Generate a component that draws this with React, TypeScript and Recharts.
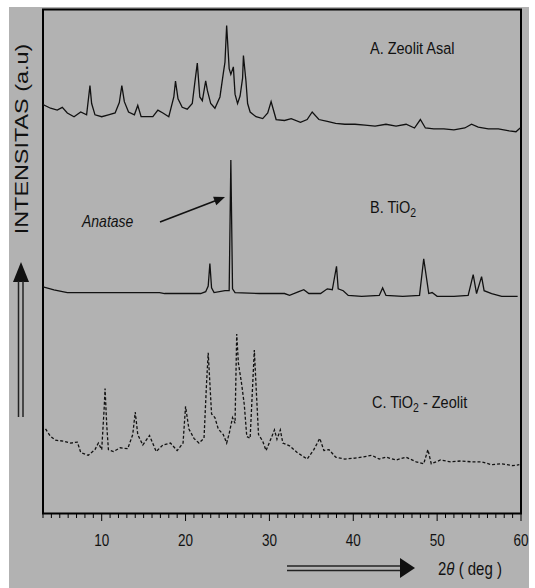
import { LineChart, Line, XAxis, YAxis } from 'recharts'

// 2θ (deg) / intensitas (a.u) pairs
const zeolitAsal: [number, number][] = [
  [3.0, 403], [3.9, 399], [4.7, 397], [5.3, 400], [5.9, 394], [6.7, 390], [7.5, 395], [8.2, 392],
  [8.6, 423], [8.8, 404], [9.2, 392], [10.0, 390], [10.8, 392], [11.6, 394], [12.1, 405], [12.4, 423],
  [12.7, 406], [13.2, 395], [13.9, 392], [14.3, 402], [14.7, 390], [15.3, 390], [16.1, 390], [16.7, 397],
  [17.3, 394], [18.0, 390], [18.6, 411], [18.8, 428], [19.1, 409], [19.6, 400], [20.2, 398], [20.8, 404],
  [21.1, 426], [21.4, 447], [21.7, 411], [22.0, 407], [22.4, 428], [22.6, 418], [23.0, 404], [23.5, 399],
  [24.1, 411], [24.5, 436], [24.7, 448], [24.9, 487], [25.2, 441], [25.4, 435], [25.7, 443], [25.9, 414],
  [26.2, 404], [26.5, 412], [26.8, 431], [26.9, 455], [27.2, 428], [27.4, 404], [27.7, 395], [28.4, 390],
  [29.2, 388], [29.8, 394], [30.2, 406], [30.8, 387], [31.8, 386], [32.6, 388], [33.7, 384], [34.5, 387],
  [35.1, 395], [35.9, 387], [36.9, 385], [37.9, 383], [39.0, 382], [40.2, 382], [41.4, 381], [42.6, 380],
  [43.9, 382], [45.1, 380], [46.3, 382], [47.3, 378], [48.0, 387], [48.6, 378], [49.6, 377], [50.8, 377],
  [52.0, 376], [53.3, 378], [54.1, 382], [54.9, 379], [56.1, 377], [57.3, 377], [58.6, 375], [59.4, 374],
  [59.9, 378],
]

const tio2: [number, number][] = [
  [3.0, 209], [4.3, 206], [5.9, 203], [10.0, 203], [14.1, 203], [16.9, 203], [17.5, 202], [19.0, 202],
  [21.8, 202], [22.4, 204], [22.7, 210], [22.9, 234], [23.1, 208], [23.4, 203], [24.7, 205], [25.2, 205],
  [25.4, 344], [25.6, 207], [25.9, 203], [28.8, 202], [31.8, 202], [32.4, 200], [33.5, 204], [34.1, 206],
  [34.7, 202], [36.1, 202], [36.9, 207], [37.5, 206], [38.0, 231], [38.2, 207], [38.8, 205], [39.4, 200],
  [41.0, 199], [43.1, 200], [43.5, 208], [43.9, 200], [45.9, 199], [47.9, 200], [48.4, 239], [49.0, 202],
  [49.4, 203], [50.0, 199], [52.0, 199], [53.7, 200], [54.3, 222], [54.7, 202], [55.3, 220], [55.6, 205],
  [56.5, 202], [57.7, 199], [59.6, 199],
]

const tio2Zeolit: [number, number][] = [
  [3.3, 58], [3.9, 50], [4.5, 46], [5.5, 45], [6.3, 43], [7.1, 44], [7.5, 33], [8.4, 30],
  [9.2, 36], [9.6, 43], [10.0, 36], [10.3, 81], [10.4, 101], [10.6, 62], [10.8, 36], [11.4, 34],
  [12.2, 38], [13.1, 37], [13.7, 52], [14.0, 76], [14.3, 52], [14.9, 41], [15.7, 51], [16.5, 34],
  [17.3, 41], [18.2, 43], [19.0, 35], [19.7, 43], [20.0, 82], [20.4, 58], [21.0, 48], [21.6, 43],
  [22.2, 48], [22.5, 106], [22.7, 139], [23.1, 74], [23.5, 70], [23.9, 58], [24.5, 52], [24.9, 43],
  [25.2, 53], [25.6, 70], [25.9, 64], [26.1, 159], [26.3, 128], [26.7, 105], [27.0, 84], [27.3, 50],
  [27.7, 48], [28.2, 142], [28.4, 105], [28.7, 52], [29.2, 45], [29.6, 35], [30.2, 48], [30.6, 57],
  [30.9, 47], [31.3, 57], [31.6, 43], [32.4, 40], [33.3, 33], [34.5, 26], [35.3, 36], [36.0, 48],
  [36.5, 35], [37.1, 36], [37.9, 28], [39.0, 26], [40.2, 27], [41.0, 28], [42.2, 30], [43.1, 26],
  [43.9, 28], [45.1, 25], [46.3, 28], [47.5, 23], [48.4, 21], [48.9, 36], [49.3, 21], [50.4, 25],
  [51.6, 23], [52.9, 24], [54.1, 23], [55.3, 23], [56.5, 20], [57.7, 21], [59.0, 19], [59.8, 20],
]

const majorTicks = [10, 20, 30, 40, 50, 60]
const minorTicks = Array.from({ length: 58 }, (_, k) => 3 + k)

const toRows = (pts: [number, number][]) => pts.map(([t, i]) => ({ t, i }))

const GRAY = 'rgb(178, 178, 178)'
const FONT = "'Liberation Sans', Arial, sans-serif"

function XTick(props: any) {
  const { x, payload } = props
  const v = payload.value
  const major = majorTicks.includes(v)
  return (
    <g>
      <line x1={x} x2={x} y1={514} y2={major ? 521 : 518} stroke="#000" strokeWidth={1} />
      {major && (
        <text
          transform={`translate(${x},545.5) scale(1,1.2)`}
          textAnchor="middle"
          fontFamily={FONT}
          fontSize={13.5}
          fill="#111"
        >
          {v}
        </text>
      )}
    </g>
  )
}

export default function App() {
  return (
    <div style={{ position: 'fixed', left: 0, top: 0, width: 535, height: 588, backgroundColor: '#ffffff' }}>
      <div style={{ position: 'absolute', left: 9, top: 7, width: 520, height: 581, backgroundColor: GRAY }} />
      <div style={{ position: 'absolute', left: 0, top: 0 }}>
        <LineChart width={535} height={588} margin={{ top: 9.5, right: 14, bottom: 74.5, left: 43 }}>
          <rect x={9} y={7} width={520} height={581} fill={GRAY} />
          <rect x={43} y={9.5} width={478} height={504} fill="none" stroke="#000" strokeWidth={2} />
          <XAxis
            type="number"
            dataKey="t"
            domain={[3, 60]}
            ticks={minorTicks}
            interval={0}
            allowDataOverflow
            axisLine={false}
            tickLine={false}
            tick={<XTick />}
          />
          <YAxis hide type="number" domain={[0, 504]} allowDataOverflow />
          <Line data={toRows(zeolitAsal)} dataKey="i" type="linear" stroke="#111" strokeWidth={1.3} dot={false} isAnimationActive={false} />
          <Line data={toRows(tio2)} dataKey="i" type="linear" stroke="#111" strokeWidth={1.3} dot={false} isAnimationActive={false} />
          <Line data={toRows(tio2Zeolit)} dataKey="i" type="linear" stroke="#111" strokeWidth={1.3} strokeDasharray="3 2" dot={false} isAnimationActive={false} />
        </LineChart>
      </div>
      <svg width={535} height={588} style={{ position: 'absolute', left: 0, top: 0, pointerEvents: 'none' }}>
        <g fontFamily={FONT} fill="#111">
          <text transform="translate(27.5,139) rotate(-90) scale(1.3,1)" textAnchor="middle" fontSize={18}>
            INTENSITAS (a.u)
          </text>
          <text transform="translate(370,54) scale(1,1.2)" fontSize={14.5}>A. Zeolit Asal</text>
          <text transform="translate(370,213) scale(1,1.2)" fontSize={14.5}>
            B. TiO<tspan fontSize={10.5} dy={3}>2</tspan>
          </text>
          <text transform="translate(372,408) scale(1,1.2)" fontSize={14.5}>
            C. TiO<tspan fontSize={10.5} dy={3}>2</tspan>
            <tspan dy={-3}> - Zeolit</tspan>
          </text>
          <text transform="translate(82,227) scale(1,1.2)" fontSize={14} fontStyle="italic">Anatase</text>
          <text transform="translate(438,575) scale(1,1.2)" fontSize={15}>
            2<tspan fontStyle="italic">θ</tspan> ( deg )
          </text>
        </g>
        <line x1={160} y1={222} x2={216} y2={200.5} stroke="#111" strokeWidth={1.6} />
        <polygon points="225,197 216.3,205.2 213.1,196.7" fill="#111" />
        <polygon points="21,262 13,282 29,282" fill="#111" />
        <line x1={18.5} y1={281} x2={18.5} y2={417} stroke="#222" strokeWidth={1.5} />
        <line x1={23} y1={281} x2={23} y2={417} stroke="#222" strokeWidth={1.5} />
        <line x1={287} y1={566} x2={401} y2={566} stroke="#222" strokeWidth={1.5} />
        <line x1={287} y1={570.5} x2={401} y2={570.5} stroke="#222" strokeWidth={1.5} />
        <polygon points="400,558 415,568 400,578" fill="#111" />
      </svg>
    </div>
  )
}
